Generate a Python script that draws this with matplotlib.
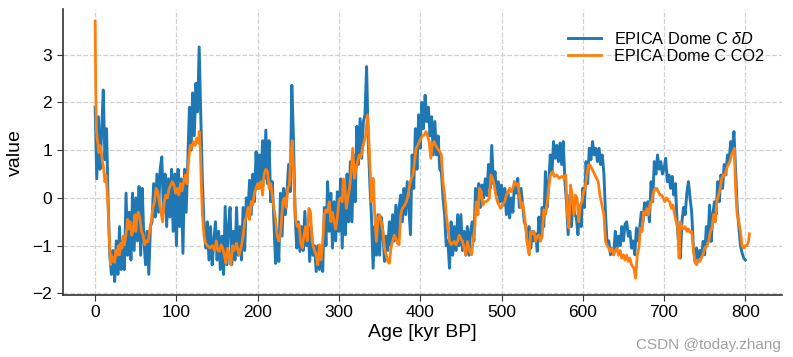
import numpy as np
import matplotlib
matplotlib.use("Agg")
import matplotlib.pyplot as plt

# EPICA Dome C deltaD (normalised), sampled every 2 kyr from 0 to 800 kyr BP
dD_age = list(range(0, 802, 2))
dD_val = [
    1.9, 0.4, 1.7, 0.6, 1.4, 2.26, 0.8, 1.45, -0.1, -1.2,
    -1.6, -1.1, -1.75, -0.9, -1.6, -0.6, -1.5, -0.9, -1.5, 0.1,
    -1.2, -0.3, -1.3, 0.1, -1.1, 0.0, -0.9, 0.24, -1.2, 0.2,
    -0.9, -1.4, -0.7, -1.6, -0.6, -0.5, 0.3, -0.4, 0.5, -0.3,
    0.6, 0.86, -0.3, 0.5, -0.6, 0.4, -0.4, 0.6, -0.7, 0.5,
    -1.0, 0.6, -0.6, 0.4, -1.16, 0.6, -0.3, 0.83, 1.9, 1.0,
    2.2, 1.3, 2.4, 1.8, 3.16, 1.7, 0.34, -0.6, -1.05, -0.5,
    -1.3, -0.6, -1.4, -0.9, -0.5, -1.3, -0.7, -1.5, -0.8, -1.6,
    -0.18, -1.4, -0.6, -0.2, -1.4, -0.7, -1.3, -0.2, -1.2, -0.6,
    -1.3, -0.2, -1.1, 0.0, -0.3, 0.37, -0.35, 0.5, -0.08, 0.97,
    0.2, 0.9, 0.3, 1.2, 0.4, 1.42, 0.3, 1.2, -0.08, 0.34,
    -0.5, -1.37, -0.7, -1.33, 0.1, -0.8, 0.2, -0.35, 0.1, 0.7,
    0.13, 2.36, 1.25, -0.35, -1.05, -0.5, -1.12, -0.6, -1.1, -0.28,
    -1.0, -0.6, -1.33, -0.63, -1.2, -1.0, -1.54, -1.0, -1.5, -1.1,
    -1.54, -0.2, -1.0, 0.34, -0.7, 0.1, -1.05, -0.08, -0.9, 0.13,
    -0.7, 0.4, -1.05, 0.3, -0.77, 0.5, -0.5, 0.76, -0.5, 0.9,
    -0.08, 1.5, 0.7, 1.66, 0.83, 1.6, 1.74, 2.75, 1.2, 0.3,
    -0.4, -1.47, -0.6, -1.2, -0.35, -1.2, -0.4, -0.7, -1.33, -0.8,
    -1.1, -0.5, -1.0, -0.35, -0.9, -0.15, -0.9, -0.2, 0.06, -0.5,
    0.2, -0.35, 0.34, -0.2, -0.77, 0.9, 0.2, 1.45, 0.6, 1.74,
    1.04, 2.0, 1.45, 2.15, 1.6, 1.9, 1.3, 1.7, 0.9, 1.6,
    0.9, 1.3, 0.6, 0.55, 0.0, -0.35, -1.0, -0.9, -1.47, -0.5,
    -1.2, -0.6, -1.1, -0.35, -1.0, -0.35, -1.1, -0.7, -1.2, -0.6,
    -1.2, -0.7, -0.5, -0.9, 0.2, -0.35, 0.3, -0.2, 0.27, 0.0,
    0.4, 0.05, 0.7, 0.2, 1.1, 0.3, 0.55, 0.06, 0.34, -0.08,
    0.27, -0.15, 0.2, -0.35, 0.13, -0.42, 0.0, -0.3, 0.34, 0.1,
    0.41, -0.2, 0.2, -0.15, -0.5, -0.6, -0.98, -0.6, -1.05, -0.7,
    -0.9, -0.75, -1.12, -0.4, -0.8, -0.2, -0.6, 0.55, -0.2, 0.3,
    0.9, 0.5, 1.18, 0.83, 1.1, 0.76, 1.15, 0.7, 1.18, 0.35,
    -0.1, -0.77, 0.06, -0.6, -0.08, -0.35, -0.4, -0.77, -0.2, -0.6,
    0.2, -0.2, 0.76, 0.3, 1.04, 0.8, 1.18, 0.9, 1.04, 0.76,
    1.04, 0.7, 0.9, 0.5, -0.35, -0.98, -0.9, -1.19, -1.05, -1.19,
    -0.7, -1.05, -0.8, -1.0, -0.6, -0.9, -0.55, -0.5, -0.8, -0.7,
    -1.05, -0.9, -1.19, -0.63, -0.9, -0.63, -0.3, -0.5, -0.1, -0.35,
    -0.08, -0.5, 0.34, -0.08, 0.76, 0.5, 0.9, 0.6, 0.76, 0.5,
    0.62, 0.83, 0.34, 0.48, 0.2, 0.45, 0.06, 0.3, -0.5, -1.0,
    -1.26, -0.5, -0.2, -0.35, 0.1, 0.34, 0.0, -0.3, -1.0, -1.33,
    -1.05, -1.26, -1.1, -1.25, -0.91, -1.19, -0.6, -0.9, -0.15, -0.91,
    -0.35, -0.08, -0.35, 0.34, -0.08, 0.48, 0.2, 0.7, 0.48, 0.9,
    0.76, 1.18, 0.97, 1.39, 0.6, -0.2, -0.6, -1.0, -1.15, -1.26,
    -1.3,
]

# EPICA Dome C CO2 (normalised)
co2_age = [
    0, 0.8, 1.6, 3, 4.5, 6, 7.5, 9, 10.5, 12, 13.5, 15, 16, 17, 18, 19, 20, 21,
    22.5, 24, 25.5, 27, 28.5, 30, 31.5, 33, 34.5, 36, 38, 40, 41.5, 43, 45, 47,
    49, 50, 51.5, 53, 55, 57, 59, 61, 63, 65, 67, 69, 71, 73, 75, 77, 79, 81,
    83, 85, 87, 89, 91, 93, 95, 97, 99, 101, 103, 105, 107, 109, 111, 113, 115,
    117, 119, 121, 123, 125, 127, 128, 129.5, 130.5, 132, 134, 136, 138, 141,
    144, 147, 149, 151, 153, 155, 157, 159, 161, 163, 165, 167, 169, 171, 174,
    177, 180, 182, 184, 186, 188, 190, 192, 194, 196, 198, 200, 202, 204, 206,
    208, 210, 212, 214, 216, 218, 220, 222, 224, 226, 228, 230, 231, 233, 235,
    237, 239, 241, 242.5, 244, 245.5, 247, 249, 251, 253, 255, 257, 259, 261,
    263, 265, 267, 269, 272, 274, 276, 278, 280, 282, 284, 286, 288, 290, 292,
    294, 296, 298, 300, 302, 304, 305.5, 307, 309, 311, 313, 315, 317, 319, 321,
    323, 325, 327, 329, 331, 333, 335, 336.5, 338, 340, 342, 344, 346, 348, 350,
    352, 354, 356, 358, 360, 362, 364, 366, 368, 370, 372, 374, 376, 378, 381,
    383, 385, 387, 389, 391, 393, 395, 397, 399, 401, 403, 405, 407, 409, 411,
    413, 415, 417, 419, 421, 424, 426, 428, 430, 432, 434, 436, 438, 440, 442,
    444, 446, 448, 450, 452, 454, 456, 458, 461, 463, 465, 467, 469, 471, 473,
    475, 477, 479, 481, 483, 485, 487, 489, 491, 493, 495, 497, 499, 501, 504,
    506, 508, 510, 512, 514, 516, 518, 520, 522, 524, 526, 528, 530, 532, 534,
    536, 538, 540, 542, 544, 546, 548, 550, 552, 554, 556, 558, 560, 563, 565,
    568, 571, 574, 577, 579, 581, 583, 585, 587, 589, 591, 593, 595, 597, 599,
    601, 603, 605, 607, 609, 611, 613, 615, 617, 619, 621, 623, 626, 628, 630,
    632, 634, 636, 638, 640, 642, 644, 646, 648, 650, 652, 654, 656, 658, 660,
    663, 665, 667, 669, 671, 673, 675, 677, 679, 681, 683, 685, 687, 689, 691,
    693, 695, 697, 699, 701, 703, 705, 707, 709, 711, 713, 715, 717, 718.5, 720,
    722, 724, 726, 728, 730, 732, 734, 736, 738, 740, 742, 744, 746, 748, 750,
    753, 755, 757, 759, 761, 763, 765, 767, 769, 771, 773, 775, 777, 779, 781,
    783, 785, 786.5, 788, 790, 792, 794, 796, 798, 800, 802, 804, 805,
]
co2_val = [
    3.70, 2.2, 1.39, 1.18, 0.95, 1.1, 0.97, 0.76, 0.62, 0.34, 0.48, 0.06, -0.2, -0.7, -1.05, -1.4, -1.2, -1.32,
    -1.25, -1.35, -1.1, -1.2, -1.0, -1.19, -0.95, -1.05, -0.8, -0.98, -0.76, -0.45, -0.65, -0.5, -0.78, -0.63,
    -0.35, -0.7, -0.4, -0.3, -0.42, -0.7, -0.78, -0.98, -0.9, -0.92, -0.7, -0.5, -0.22, -0.08, 0.2, 0.13, -0.08, -0.28,
    -0.5, -0.08, 0.06, 0.0, 0.2, 0.27, 0.34, 0.27, 0.1, 0.2, 0.06, 0.3, 0.15, 0.35, 0.48, 0.3, 0.8,
    1.1, 1.04, 1.18, 1.1, 1.25, 1.15, 1.39, 1.0, 0.34, -0.35, -0.8, -0.95, -1.0, -1.05,
    -1.0, -1.1, -0.9, -1.1, -1.12, -0.98, -1.05, -1.2, -1.37, -1.05, -1.2, -1.4, -1.0, -1.1, -0.95,
    -1.2, -1.0, -0.8, -0.5, -0.4, -0.2, -0.45, -0.08, -0.15, 0.1, 0.2, 0.3, 0.2, 0.34, 0.06,
    0.5, 0.6, 0.55, 0.2, 0.3, 0.05, -0.22, -0.45, -0.8, -0.9, -0.75, -0.3, -0.08, 0.0, -0.2,
    0.2, 0.27, 0.97, 1.2, 0.6, 0.0, -0.5, -0.6, -0.55, -0.95, -1.05, -0.78, -0.6, -0.9,
    -0.22, -0.3, -0.9, -1.05, -1.2, -1.4, -0.98, -1.3, -0.9, -0.35, -0.25, -0.3, -0.08, -0.5, -0.3,
    -0.5, -0.65, -0.4, -0.05, 0.0, -0.08, 0.4, 0.3, -0.22, 0.0, 0.2, 0.55, 1.04, 0.41, 0.62,
    0.76, 0.9, 0.85, 1.04, 1.18, 1.32, 1.74, 1.32, 0.7, -0.08, 0.41, -0.35, -0.91, -0.45, -0.35,
    -0.5, -0.7, -1.05, -1.19, -1.33, -1.37, -1.05, -0.91, -0.78, -0.85, -0.95, -0.98, -0.35, -0.22, -0.15,
    -0.08, 0.06, 0.27, 0.41, 0.48, 0.76, 1.04, 1.1, 1.18, 1.25, 1.3, 1.32, 1.39, 1.3, 1.18,
    0.83, 1.1, 1.18, 1.1, 1.04, 0.97, 0.9, 0.34, 0.06, -0.35, -0.63, -0.91, -0.98, -0.95, -0.91,
    -0.98, -0.91, -0.78, -0.85, -0.91, -1.05, -1.19, -0.91, -1.12, -1.19, -0.91, -0.63, -0.08, -0.35, 0.2,
    0.13, -0.15, -0.08, -0.08, -0.05, 0.0, 0.48, 0.41, 0.27, 0.06, -0.08, -0.15, -0.22, -0.15, -0.08,
    0.06, 0.13, 0.2, 0.13, 0.2, 0.34, 0.27, 0.3, 0.06, -0.2, -0.1, -0.35, -0.63, -1.0, -1.19,
    -0.7, -0.75, -0.7, -0.91, -0.8, -0.78, -0.91, -0.8, -0.25, -0.35, -0.15, 0.2, 0.48, 0.55, 0.45,
    0.48, 0.41, 0.45, 0.41, 0.48, -0.3, -0.63, 0.27, 0.06, -0.35, 0.06, 0.0, -0.5, -0.15, -0.08,
    0.13, 0.2, 0.48, 0.69, 0.69, 0.62, 0.55, 0.48, 0.41, 0.34, 0.06, -0.1, -0.35, -0.91, -1.0,
    -1.05, -1.12, -1.05, -1.19, -1.1, -1.05, -1.2, -1.1, -1.26, -1.19, -1.3, -1.2, -1.33, -1.26, -1.4,
    -1.47, -1.68, -1.2, -1.05, -0.63, -0.7, -0.29, -0.35, -0.22, -0.35, -0.1, -0.08, 0.13, 0.2, 0.2,
    0.13, 0.06, 0.06, 0.0, -0.08, 0.0, -0.05, -0.08, -0.22, -0.15, -0.35, -0.5, -0.63, -1.26, -0.5,
    -0.63, -0.65, -0.6, -0.7, -0.65, -0.72, -0.7, -1.05, -1.35, -1.4, -1.3, -1.33, -1.25, -1.19, -1.05,
    -1.0, -0.91, -0.7, -0.63, -0.35, -0.5, -0.08, 0.06, 0.2, 0.41, 0.48, 0.48, 0.62, 0.7, 0.76,
    0.9, 0.97, 1.04, 0.2, -0.35, -0.5, -0.7, -1.0, -1.05, -1.0, -1.0, -0.9, -0.75,
]

x_ticks = [0, 100, 200, 300, 400, 500, 600, 700, 800]
y_ticks = [-2, -1, 0, 1, 2, 3]

plt.rcParams['font.family'] = ['Liberation Sans', 'DejaVu Sans']
plt.rcParams['mathtext.fontset'] = 'custom'
plt.rcParams['mathtext.it'] = 'Liberation Sans:italic'
plt.rcParams['mathtext.rm'] = 'Liberation Sans'

fig = plt.figure(figsize=(7.93, 3.57), dpi=100)
ax = fig.add_axes([0.079, 0.174, 0.907, 0.80])

ax.plot(dD_age, dD_val, color='#1f77b4', lw=2.1, label=r'EPICA Dome C $\delta D$')
ax.plot(co2_age, co2_val, color='#ff7f0e', lw=2.0, label='EPICA Dome C CO2')

ax.set_xticks(x_ticks)
ax.set_yticks(y_ticks)
ax.set_xlim(-40, 845)
ax.set_ylim(-2.03, 3.95)
ax.grid(True, ls='--', color='#d0d0d0', lw=0.9)
ax.set_axisbelow(True)
for s in ['top', 'right']:
    ax.spines[s].set_visible(False)
for s in ['left', 'bottom']:
    ax.spines[s].set_color('#333333')
    ax.spines[s].set_linewidth(1.2)
ax.tick_params(labelsize=12.5, length=4, color='#333333')
ax.set_xlabel('Age [kyr BP]', fontsize=14, labelpad=3)
ax.set_ylabel('value', fontsize=14, labelpad=6)
leg = ax.legend(loc='upper right', frameon=False, fontsize=11.7,
                handlelength=2.0, labelspacing=0.1, handletextpad=0.8,
                bbox_to_anchor=(0.995, 0.975))

fig.text(0.985, 0.035, 'CSDN @today.zhang', ha='right', va='center',
         fontsize=11, color='#a0a0a0')

fig.savefig('out.png', dpi=100)
